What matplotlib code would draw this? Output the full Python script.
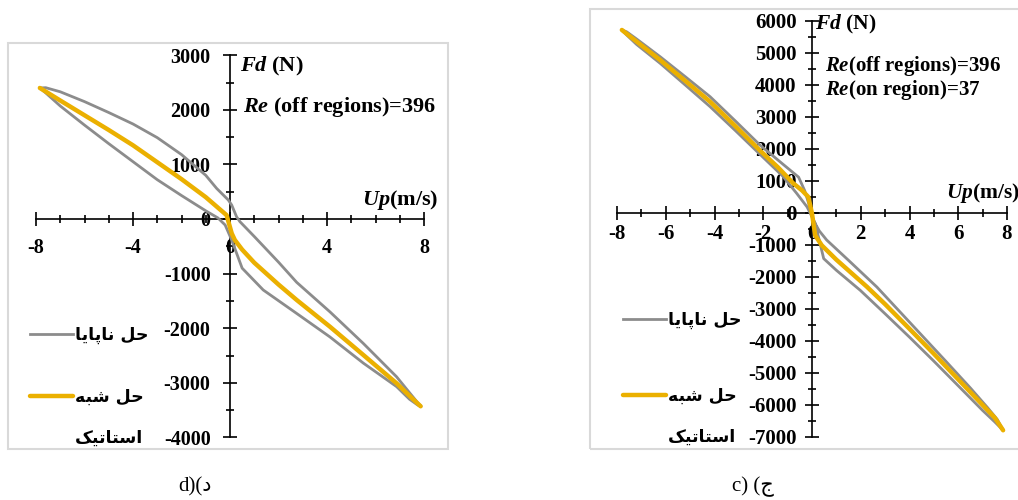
import matplotlib
matplotlib.use("Agg")
import matplotlib.pyplot as plt
from matplotlib.patches import Rectangle
from matplotlib.lines import Line2D

plt.rcParams['font.family'] = ['Liberation Serif', 'DejaVu Sans']
plt.rcParams['font.weight'] = 'bold'
plt.rcParams['mathtext.fontset'] = 'custom'
plt.rcParams['mathtext.it'] = 'Liberation Serif:italic:bold'
plt.rcParams['mathtext.rm'] = 'Liberation Serif:bold'

GREY = '#8c8c8c'
GOLD = '#ebb000'

# ---- panel d (left) ----
d_upper_x = [-7.84, -7.6, -7.0, -6.0, -5.0, -4.0, -3.0, -2.0, -1.0, -0.55, -0.07, 0.07, 0.27, 0.41,
             1.0, 2.0, 2.75, 4.12, 5.5, 6.87, 7.4, 7.75, 7.88]
d_upper_y = [2400, 2405, 2330, 2150, 1950, 1740, 1490, 1180, 800, 560, 348, 256, 42, -49,
             -320, -790, -1160, -1700, -2280, -2890, -3180, -3370, -3430]
d_lower_x = [-7.84, -7.6, -7.0, -6.0, -5.0, -4.0, -3.0, -2.0, -1.0, -0.5, -0.2, 0.07, 0.5,
             1.37, 2.75, 4.12, 5.5, 6.87, 7.4, 7.75, 7.88]
d_lower_y = [2400, 2310, 2070, 1720, 1380, 1050, 720, 430, 150, 20, -110, -385, -900,
             -1300, -1730, -2160, -2640, -3070, -3300, -3410, -3430]
d_quasi_x = [-7.84, -7.0, -6.0, -5.0, -4.0, -3.0, -2.0, -1.0, -0.4, -0.14, 0.07, 0.2, 0.5,
             1.0, 2.0, 2.75, 4.12, 5.5, 6.87, 7.5, 7.86]
d_quasi_y = [2400, 2170, 1900, 1630, 1350, 1040, 730, 400, 170, 70, -262, -385, -560,
             -800, -1200, -1483, -1972, -2491, -3009, -3280, -3430]

# ---- panel c (right) ----
c_upper_x = [-7.8, -7.6, -7.2, -6.23, -5.2, -4.18, -3.15, -2.13, -1.2, -0.55, -0.3, -0.07, 0.05,
             0.3, 0.6, 1.5, 2.66, 3.5, 4.5, 5.5, 6.5, 7.2, 7.6, 7.84]
c_upper_y = [5720, 5660, 5440, 4884, 4260, 3634, 2880, 2120, 1530, 1120, 700, 137, -220,
             -560, -843, -1480, -2312, -3000, -3820, -4640, -5470, -6080, -6450, -6790]
c_lower_x = [-7.8, -7.6, -7.2, -6.23, -5.2, -4.18, -3.15, -2.13, -1.2, -0.63, -0.2, 0.13, 0.48,
             1.0, 1.98, 3.0, 4.0, 5.0, 6.0, 7.0, 7.5, 7.84]
c_lower_y = [5720, 5560, 5270, 4678, 4000, 3322, 2580, 1830, 1150, 616, 187, -322, -1425,
             -1790, -2416, -3150, -3880, -4630, -5400, -6170, -6530, -6790]
c_quasi_x = [-7.8, -7.2, -6.23, -5.2, -4.18, -3.15, -2.13, -1.4, -0.77, -0.4, -0.15, 0.0, 0.13,
             0.4, 1.0, 2.25, 3.0, 4.0, 5.0, 6.0, 7.0, 7.5, 7.84]
c_quasi_y = [5720, 5360, 4780, 4130, 3478, 2720, 1950, 1430, 928, 700, 500, -20, -697,
             -1010, -1460, -2303, -2850, -3620, -4400, -5200, -6000, -6400, -6790]

d_yticks = [3000, 2000, 1000, 0, -1000, -2000, -3000, -4000]
d_xticks = [-8, -4, 0, 4, 8]
c_yticks = [6000, 5000, 4000, 3000, 2000, 1000, 0, -1000, -2000, -3000, -4000, -5000, -6000, -7000]
c_xticks = [-8, -6, -4, -2, 0, 2, 4, 6, 8]

lbl_unsteady = '\uFE8E\uFBFE\uFE8E\uFB58\uFE8E\uFEE7 \uFEDE\uFEA3'
lbl_quasi = '\uFEEA\uFE92\uFEB7 \uFEDE\uFEA3'
lbl_static = '\uFB8F\uFBFF\uFE97\uFE8E\uFE98\uFEB3\uFE8D'
fa_font = ['DejaVu Sans']

W, H = 1018, 500
fig = plt.figure(figsize=(W / 100, H / 100), dpi=100)


def px_axes(left, top, right, bottom):
    return fig.add_axes([left / W, 1 - bottom / H, (right - left) / W, (bottom - top) / H])


def setup(ax, ymin_max, xmaj, ymaj, yminor, fs, xpad, ypad):
    for s in ['top', 'right']:
        ax.spines[s].set_visible(False)
    for s in ['left', 'bottom']:
        ax.spines[s].set_position(('data', 0))
        ax.spines[s].set_linewidth(1.2)
    ax.spines['left'].set_bounds(*ymin_max)
    ax.spines['bottom'].set_bounds(-8, 8)
    ax.set_xticks(xmaj)
    ax.set_xticks(range(-8, 9), minor=True)
    ax.set_yticks(ymaj)
    ax.set_yticks(yminor, minor=True)
    ax.set_xticklabels([str(v) for v in xmaj], fontsize=fs, fontweight='bold')
    ax.set_yticklabels([str(v) for v in ymaj], fontsize=fs, fontweight='bold')
    ax.tick_params(which='major', direction='inout', length=10, width=1.2)
    ax.tick_params(which='minor', direction='inout', length=6, width=1.2)
    ax.tick_params(axis='x', pad=xpad)
    ax.tick_params(axis='y', pad=ypad)
    ax.patch.set_visible(False)


def draw(ax, ux, uy, lx, ly, qx, qy):
    loop_x = ux + lx[::-1]
    loop_y = uy + ly[::-1]
    g, = ax.plot(loop_x, loop_y, color=GREY, lw=2.0, zorder=4, solid_joinstyle='round')
    q, = ax.plot(qx, qy, color=GOLD, lw=3.2, zorder=5, solid_capstyle='round', solid_joinstyle='round')
    return g, q


def legends(ax, g, q, x0, y_first, y_second, fs):
    prop = {'family': fa_font, 'weight': 'bold', 'size': fs}
    leg1 = ax.legend([g], [lbl_unsteady], loc='center left', bbox_to_anchor=(x0, y_first),
                     frameon=False, handlelength=2.5, handletextpad=0.1, borderpad=0,
                     prop=prop, borderaxespad=0)
    ax.add_artist(leg1)
    blank = Line2D([], [], color='none')
    ax.legend([q, blank], [lbl_quasi, lbl_static], loc='upper left', bbox_to_anchor=(x0, y_second),
              frameon=False, handlelength=2.5, handletextpad=0.1, labelspacing=1.3, borderpad=0,
              prop=prop, borderaxespad=0)


# left panel d
axd = px_axes(8, 43, 448, 449)
axd.set_xlim((8 - 230) / 24.25, (448 - 230) / 24.25)
axd.set_ylim((219 - 449) / 54.6 * 1000, (219 - 43) / 54.6 * 1000)
setup(axd, (-4000, 3000), d_xticks, d_yticks, range(-4000, 3001, 500), 14.5, 9, 9)
gd, qd = draw(axd, d_upper_x, d_upper_y, d_lower_x, d_lower_y, d_quasi_x, d_quasi_y)
axd.text(0.4, 3000, r'$Fd$ (N)', fontsize=16, fontweight='bold', va='top', ha='left', zorder=6)
axd.text(0.55, 2050, r'$Re$ (off regions)=396', fontsize=16, fontweight='bold', va='center', ha='left')
axd.text(8.6, 350, r'$Up$(m/s)', fontsize=16, fontweight='bold', va='center', ha='right')
legends(axd, gd, qd, 0.05, 0.28, 0.15, 12.5)

# right panel c
axc = px_axes(590, 9, 1030, 449)
axc.set_xlim((590 - 812) / 24.375, (1030 - 812) / 24.375)
axc.set_ylim((213 - 449) / 32 * 1000, (213 - 9) / 32 * 1000)
setup(axc, (-7000, 6000), c_xticks, c_yticks, range(-7000, 6001, 500), 15, 3, 6)
gc, qc = draw(axc, c_upper_x, c_upper_y, c_lower_x, c_lower_y, c_quasi_x, c_quasi_y)
axc.text(0.12, 6250, r'$Fd$ (N)', fontsize=15.5, fontweight='bold', va='top', ha='left', zorder=6)
axc.text(0.55, 4580, r'$Re$(off regions)=396', fontsize=15, fontweight='bold', va='center', ha='left')
axc.text(0.55, 3850, r'$Re$(on region)=37', fontsize=15, fontweight='bold', va='center', ha='left')
axc.text(5.5, 630, r'$Up$(m/s)', fontsize=15.5, fontweight='bold', va='center', ha='left')
legends(axc, gc, qc, 0.075, 0.293, 0.141, 12.5)

# panel frames
fig.patches.append(Rectangle((8 / W, 1 - 449 / H), 440 / W, 406 / H, transform=fig.transFigure,
                             fill=False, edgecolor='#d9d9d9', lw=1.5))
fig.patches.append(Rectangle((590 / W, 1 - 449 / H), 440 / W, 440 / H, transform=fig.transFigure,
                             fill=False, edgecolor='#d9d9d9', lw=1.5))

fig.text(195 / W, 1 - 487 / H, 'd)(\u062F', fontsize=15, fontweight='normal', ha='center', va='center')
fig.text(753 / W, 1 - 487 / H, 'c) (\u062C', fontsize=15, fontweight='normal', ha='center', va='center')

fig.savefig('out.png', dpi=100)
